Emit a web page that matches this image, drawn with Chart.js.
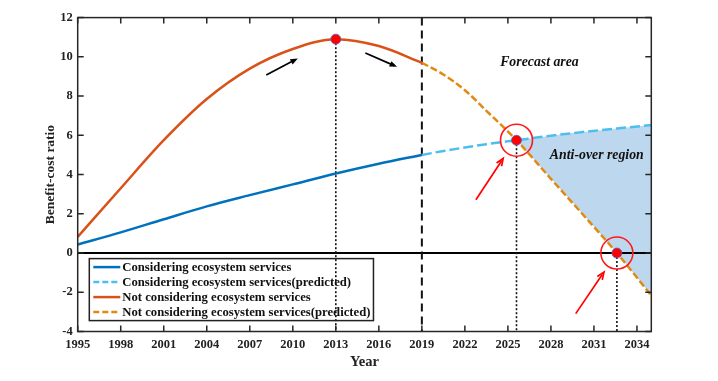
<!DOCTYPE html>
<html>
<head>
<meta charset="utf-8">
<script src="https://cdn.jsdelivr.net/npm/chart.js@4"></script>
<style>
  html, body { margin: 0; padding: 0; background: #fff; }
  #wrap { width: 718px; height: 381px; }
</style>
</head>
<body>
<div id="wrap"><canvas id="chart"></canvas></div>
<script>
/* ---------- data ---------- */
const years      = [1995, 1998, 2001, 2004, 2007, 2010, 2013, 2016, 2019];
const withEco    = [0.43, 1.05, 1.72, 2.38, 2.95, 3.50, 4.05, 4.55, 5.00];
const withoutEco = [0.82, 3.30, 5.75, 7.85, 9.40, 10.40, 10.90, 10.55, 9.70];

const predYears      = [2019, 2020.5, 2022, 2023.5, 2025.6, 2028, 2030, 2032.6, 2035];
const withEcoPred    = [5.00, 5.20, 5.38, 5.55, 5.75, 5.98, 6.15, 6.35, 6.52];
const withoutEcoPred = [9.70, 9.10, 8.30, 7.25, 5.75, 3.78, 2.15, 0.00, -2.16];

// key points: peak, intersection, break-even
const markX = [2013, 2025.6, 2032.6];
const markY = [10.9, 5.75, 0];
const ringX = [2025.6, 2032.6];
const ringY = [5.75, 0];

const forecastStart = 2019;

const xTicks = [1995, 1998, 2001, 2004, 2007, 2010, 2013, 2016, 2019, 2022, 2025, 2028, 2031, 2034];
const yTicks = [-4, -2, 0, 2, 4, 6, 8, 10, 12];

const labels = [
  'Considering ecosystem services',
  'Considering ecosystem services(predicted)',
  'Not considering ecosystem services',
  'Not considering ecosystem services(predicted)',
];

// annotations, in data units: [x1, y1, x2, y2]
const blackArrows = [[2008.15, 9.07, 2010.35, 9.92], [2015.06, 10.2, 2017.27, 9.49]];
const redArrows   = [[2022.77, 2.72, 2024.67, 4.82], [2029.73, -3.09, 2031.7, -0.97]];
const notes = [
  { text: 'Forecast area',    x: 2027.2, y: 9.74 },
  { text: 'Anti-over region', x: 2031.2, y: 4.98 },
];

/* ---------- helpers ---------- */
const SERIF = "'Liberation Serif', 'Times New Roman', serif";
const pts = (xs, ys) => xs.map((v, i) => ({ x: v, y: ys[i] }));

function arrow(ctx, x1, y1, x2, y2, color, filled) {
  const ang = Math.atan2(y2 - y1, x2 - x1);
  const len = 8, spread = 0.38;
  ctx.strokeStyle = color;
  ctx.fillStyle = color;
  ctx.lineWidth = 1.7;
  ctx.setLineDash([]);
  ctx.beginPath();
  ctx.moveTo(x1, y1);
  ctx.lineTo(x2 - Math.cos(ang) * 3, y2 - Math.sin(ang) * 3);
  ctx.stroke();
  ctx.beginPath();
  ctx.moveTo(x2 - len * Math.cos(ang - spread), y2 - len * Math.sin(ang - spread));
  ctx.lineTo(x2, y2);
  ctx.lineTo(x2 - len * Math.cos(ang + spread), y2 - len * Math.sin(ang + spread));
  if (filled) { ctx.closePath(); ctx.fill(); } else { ctx.stroke(); }
}

/* ---------- decorations plugin ---------- */
const decor = {
  id: 'decor',
  beforeDatasetsDraw(chart) {
    const { ctx, chartArea: a, scales: { x, y } } = chart;
    ctx.save();
    ctx.beginPath();
    ctx.rect(a.left, a.top, a.width, a.height);
    ctx.clip();

    // zero line
    const y0 = y.getPixelForValue(0);
    ctx.strokeStyle = '#000';
    ctx.lineWidth = 2;
    ctx.beginPath(); ctx.moveTo(a.left, y0); ctx.lineTo(a.right, y0); ctx.stroke();

    // forecast boundary
    const xf = x.getPixelForValue(forecastStart);
    ctx.setLineDash([8, 5]);
    ctx.lineWidth = 2;
    ctx.strokeStyle = '#111';
    ctx.beginPath(); ctx.moveTo(xf, a.top); ctx.lineTo(xf, a.bottom); ctx.stroke();

    // dotted drop lines
    ctx.setLineDash([2, 2]);
    ctx.lineWidth = 1.6;
    markX.forEach((v, i) => {
      const px = x.getPixelForValue(v);
      ctx.beginPath();
      ctx.moveTo(px, y.getPixelForValue(markY[i]));
      ctx.lineTo(px, a.bottom);
      ctx.stroke();
    });
    ctx.restore();

    // legend
    ctx.save();
    const lx = a.left + 11.6, ly = a.top + 241, rowH = 15;
    ctx.font = `bold 12.7px ${SERIF}`;
    const order = [5, 4, 3, 2];
    let tw = 0;
    labels.forEach(t => { tw = Math.max(tw, ctx.measureText(t).width); });
    ctx.strokeStyle = '#222';
    ctx.lineWidth = 1.5;
    ctx.setLineDash([]);
    ctx.strokeRect(lx, ly, 33 + tw + 3, rowH * 4 + 2);
    order.forEach((di, i) => {
      const ds = chart.data.datasets[di];
      const cy = ly + 8.5 + i * rowH;
      ctx.strokeStyle = ds.borderColor;
      ctx.lineWidth = 2.5;
      ctx.setLineDash(ds.borderDash ? [6, 3] : []);
      ctx.beginPath(); ctx.moveTo(lx + 4, cy); ctx.lineTo(lx + 31, cy); ctx.stroke();
      ctx.fillStyle = '#111';
      ctx.textAlign = 'left';
      ctx.textBaseline = 'middle';
      ctx.fillText(labels[i], lx + 33, cy + 0.5);
    });
    ctx.restore();
  },
  afterDatasetsDraw(chart) {
    const { ctx, chartArea: a, scales: { x, y } } = chart;
    ctx.save();
    blackArrows.forEach(r => arrow(ctx, x.getPixelForValue(r[0]), y.getPixelForValue(r[1]),
      x.getPixelForValue(r[2]), y.getPixelForValue(r[3]), '#000', true));
    redArrows.forEach(r => arrow(ctx, x.getPixelForValue(r[0]), y.getPixelForValue(r[1]),
      x.getPixelForValue(r[2]), y.getPixelForValue(r[3]), '#ff0000', false));

    ctx.font = `italic bold 13.8px ${SERIF}`;
    ctx.fillStyle = '#111';
    ctx.textAlign = 'center';
    ctx.textBaseline = 'middle';
    notes.forEach(n => ctx.fillText(n.text, x.getPixelForValue(n.x), y.getPixelForValue(n.y)));

    // frame and inward ticks
    ctx.strokeStyle = '#262626';
    ctx.lineWidth = 1.5;
    ctx.setLineDash([]);
    ctx.strokeRect(a.left, a.top, a.width, a.height);
    ctx.beginPath();
    xTicks.forEach(v => {
      const px = x.getPixelForValue(v);
      ctx.moveTo(px, a.bottom); ctx.lineTo(px, a.bottom - 6);
      ctx.moveTo(px, a.top);    ctx.lineTo(px, a.top + 6);
    });
    yTicks.forEach(v => {
      const py = y.getPixelForValue(v);
      ctx.moveTo(a.left, py);  ctx.lineTo(a.left + 6, py);
      ctx.moveTo(a.right, py); ctx.lineTo(a.right - 6, py);
    });
    ctx.stroke();
    ctx.restore();
  },
};

/* ---------- chart ---------- */
const lineBase = { pointRadius: 0, borderWidth: 2.5, cubicInterpolationMode: 'monotone', fill: false };

new Chart(document.getElementById('chart'), {
  type: 'line',
  data: {
    datasets: [
      { label: 'marks', type: 'scatter', data: pts(markX, markY), pointRadius: 5,
        backgroundColor: '#ff0000', borderColor: '#5566cc', borderWidth: 0.8 },
      { label: 'rings', type: 'scatter', data: pts(ringX, ringY), pointRadius: 16,
        backgroundColor: 'rgba(0,0,0,0)', borderColor: '#ff1a1a', borderWidth: 1.6 },
      { ...lineBase, label: labels[3], data: pts(predYears, withoutEcoPred),
        borderColor: '#e08a12', borderDash: [7, 3] },
      { ...lineBase, label: labels[2], data: pts(years, withoutEco), borderColor: '#d95319' },
      { ...lineBase, label: labels[1], data: pts(predYears, withEcoPred),
        borderColor: '#4dbeee', borderDash: [10, 4],
        fill: { target: 2, above: '#bdd7ee', below: 'rgba(0,0,0,0)' } },
      { ...lineBase, label: labels[0], data: pts(years, withEco), borderColor: '#0072bd' },
    ],
  },
  options: {
    responsive: true,
    maintainAspectRatio: false,
    animation: false,
    layout: { padding: { left: 0, right: 66.7, top: 17.5, bottom: 0 } },
    plugins: {
      legend: { display: false },
      tooltip: { enabled: false },
      filler: { drawTime: 'beforeDatasetsDraw' },
    },
    scales: {
      x: {
        type: 'linear', min: 1995, max: 2035,
        afterBuildTicks: s => { s.ticks = xTicks.map(v => ({ value: v })); },
        afterFit: s => { s.height = 49.5; },
        grid: { display: false, drawTicks: false },
        border: { display: false },
        ticks: { font: { family: SERIF, size: 12.5, weight: 'bold' }, color: '#222',
                 padding: 6, maxRotation: 0, autoSkip: false, callback: v => String(v) },
        title: { display: true, text: 'Year', color: '#222',
                 font: { family: SERIF, size: 14.5, weight: 'bold' }, padding: { top: 0, bottom: 10 } },
      },
      y: {
        type: 'linear', min: -4, max: 12,
        afterBuildTicks: s => { s.ticks = yTicks.map(v => ({ value: v })); },
        afterFit: s => { s.width = 77.7; },
        grid: { display: false, drawTicks: false },
        border: { display: false },
        ticks: { font: { family: SERIF, size: 12.5, weight: 'bold' }, color: '#222',
                 padding: 5, callback: v => String(v) },
        title: { display: true, text: 'Benefit-cost ratio', color: '#222',
                 font: { family: SERIF, size: 13.5, weight: 'bold' }, padding: { top: 42.5, bottom: 0 } },
      },
    },
  },
  plugins: [decor],
});
</script>
</body>
</html>
